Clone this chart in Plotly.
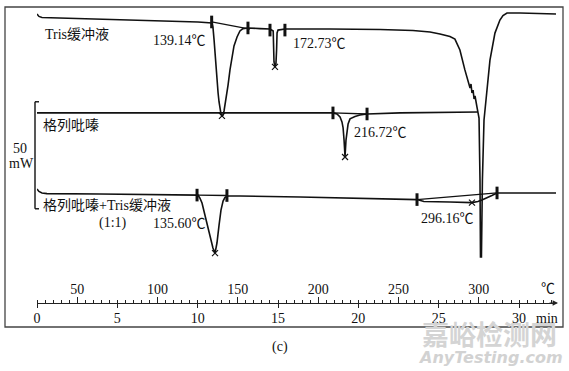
import plotly.graph_objects as go

# ---------------- data (temperature in degC, heat flow in mW incl. display offset) -------------
tris_temp = [25.0, 26.2, 28.1, 64.2, 95.3, 125.2, 133.9, 134.5, 135.2, 135.8, 136.4, 137.0, 137.7,
             138.3, 138.9, 139.5, 140.1, 140.8, 141.4, 142.6, 143.9, 145.1, 146.3, 147.6, 149.5,
             151.3, 153.2, 156.3, 163.8, 170.0, 172.0, 172.3, 172.5, 173.1, 173.7, 174.1, 174.4,
             175.0, 179.3, 207.3, 238.5, 259.0, 269.6, 275.8, 282.0, 285.1, 288.2, 291.3, 293.2,
             294.5, 295.1, 295.7, 296.4, 297.0, 297.6, 298.2, 298.8, 299.4, 300.1, 300.7, 301.0,
             301.6, 302.2, 303.2, 305.0, 306.9, 310.0, 313.1, 315.0, 317.5, 325.6, 348.0]
tris_hf = [166.8, 165.7, 165.2, 164.5, 163.8, 163.1, 162.6, 160.7, 154.7, 147.7, 140.7, 135.0, 129.9,
           125.7, 122.4, 120.1, 119.2, 119.6, 121.5, 126.6, 133.6, 140.7, 146.7, 151.9, 156.1,
           158.9, 160.0, 160.3, 160.0, 159.8, 158.9, 150.0, 144.4, 142.1, 143.5, 150.0, 158.0,
           159.3, 159.8, 159.8, 159.6, 159.1, 158.4, 157.5, 156.3, 155.1, 150.0, 140.7, 136.0,
           132.2, 134.1, 129.9, 131.3, 127.1, 128.5, 124.8, 123.4, 121.0, 118.2, 89.3, 53.3,
           53.3, 89.3, 117.3, 132.7, 145.3, 157.9, 164.0, 166.1, 167.3, 167.3, 166.8]

glip_temp = [25.0, 209.2, 211.7, 213.6, 214.8, 215.5, 216.1, 216.7, 217.3, 217.9, 218.6, 219.8,
             222.9, 226.0, 230.4, 250.9, 299.4]
glip_hf = [120.6, 120.6, 120.1, 118.7, 116.4, 113.6, 107.9, 100.0, 107.9, 112.6, 115.4, 117.8,
           118.9, 119.6, 120.1, 120.6, 121.0]

mix_temp = [25.0, 26.2, 28.1, 31.2, 64.2, 125.2, 126.4, 127.7, 129.5, 131.4, 133.3, 134.5, 135.8,
            137.0, 138.3, 139.5, 140.8, 142.0, 143.9, 151.3, 188.7, 238.5, 261.5, 265.8, 275.8,
            282.0, 295.7, 299.4, 301.9, 305.0, 308.1, 311.3, 319.3, 331.8, 348.0]
mix_hf = [85.0, 83.9, 83.2, 82.9, 82.7, 82.2, 80.8, 78.5, 72.9, 66.8, 61.2, 57.5, 55.1,
          59.8, 68.2, 75.2, 79.4, 81.1, 81.8, 81.8, 81.3, 80.6, 80.1, 79.2, 79.2,
          79.0, 78.7, 79.2, 79.9, 80.8, 82.0, 83.2, 83.2, 82.9, 83.2]

# integration baselines (start/end temperature and heat flow)
base_T = [[133.7, 157.5], [209.2, 230.4], [124.6, 143.2], [261.5, 311.3]]
base_hf = [[163.1, 159.8], [120.6, 120.1], [82.2, 82.0], [80.1, 83.2]]

# onset / endset markers
event_T = [133.7, 156.3, 170.0, 179.3, 209.2, 230.4, 124.6, 143.2, 261.5, 311.3]
event_hf = [163.1, 160.3, 159.3, 159.3, 120.6, 120.1, 82.2, 82.0, 80.1, 83.2]

# peaks
peak_T = [140.1, 173.1, 216.7, 135.8, 295.7]
peak_hf = [119.2, 142.1, 100.0, 55.1, 78.7]
peak_labels = ["139.14℃", "172.73℃", "216.72℃", "135.60℃", "296.16℃"]

curve_names = ["Tris缓冲液", "格列吡嗪", "格列吡嗪+Tris缓冲液"]

temp_ticks = [50, 100, 150, 200, 250, 300]
min_ticks = [0, 5, 10, 15, 20, 25, 30]
scale_bar_mw = 50

# ---------------- figure ----------------
W, H = 569, 371
def X(px):
    return px / W
def Y(py):
    return 1 - py / H

SERIF = "Liberation Serif, Noto Sans CJK SC, serif"
INK = "#111111"
LW = 1.6

fig = go.Figure()
for t, h in [(tris_temp, tris_hf), (glip_temp, glip_hf), (mix_temp, mix_hf)]:
    fig.add_trace(go.Scatter(x=t, y=h, mode="lines", line=dict(color=INK, width=LW),
                             hoverinfo="skip", cliponaxis=False))
for t, h in zip(base_T, base_hf):
    fig.add_trace(go.Scatter(x=t, y=h, mode="lines", line=dict(color=INK, width=1.3),
                             hoverinfo="skip", cliponaxis=False))
fig.add_trace(go.Scatter(x=event_T, y=event_hf, mode="markers",
                         marker=dict(symbol="line-ns", size=9, line=dict(color=INK, width=3)),
                         hoverinfo="skip", cliponaxis=False))
fig.add_trace(go.Scatter(x=peak_T, y=peak_hf, mode="markers",
                         marker=dict(symbol="x-thin", size=6, line=dict(color=INK, width=1.2)),
                         hoverinfo="skip", cliponaxis=False))
# carrier trace for the minute axis
fig.add_trace(go.Scatter(x=min_ticks, y=[None] * len(min_ticks), xaxis="x2", mode="lines",
                         hoverinfo="skip"))

axis_pos = Y(303)
dom = [X(37), X(556)]
fig.update_layout(
    width=W, height=H, margin=dict(l=0, r=0, t=0, b=0, pad=0), autosize=False,
    paper_bgcolor="white", plot_bgcolor="white", showlegend=False,
    xaxis=dict(domain=dom, range=[25, 348], anchor="free", position=axis_pos, side="top",
               automargin=False,
               showline=True, linecolor="#222", linewidth=1.2, ticks="outside", ticklen=6,
               tickwidth=1, tickcolor="#222", tickvals=temp_ticks, showgrid=False, zeroline=False,
               ticklabelstandoff=-3,
               tickfont=dict(family=SERIF, size=14, color=INK),
               minor=dict(ticks="outside", ticklen=3, dtick=5, tick0=0, tickcolor="#222",
                          tickwidth=1, showgrid=False)),
    xaxis2=dict(domain=dom, range=[0, 32.3], overlaying="x", anchor="free", position=axis_pos,
                side="bottom", showline=False, ticks="outside", ticklen=4, tickwidth=1,
                automargin=False, ticklabelstandoff=-2,
                tickcolor="#222", tickvals=min_ticks, showgrid=False, zeroline=False,
                tickfont=dict(family=SERIF, size=14, color=INK)),
    yaxis=dict(range=[0, 173.36], domain=[0, 1], visible=False, automargin=False),
)

shapes = [
    dict(type="rect", xref="paper", yref="paper", x0=X(5), x1=X(563), y0=Y(327), y1=Y(7),
         line=dict(color="#444", width=1.3)),
    dict(type="line", xref="paper", yref="y", x0=X(35), x1=X(35), y0=75.8,
         y1=75.8 + scale_bar_mw, line=dict(color=INK, width=1.4)),
    dict(type="line", xref="paper", yref="y", x0=X(35), x1=X(39), y0=75.8 + scale_bar_mw,
         y1=75.8 + scale_bar_mw, line=dict(color=INK, width=1.4)),
    dict(type="line", xref="paper", yref="y", x0=X(35), x1=X(39), y0=75.8, y1=75.8,
         line=dict(color=INK, width=1.4)),
]
fig.update_layout(shapes=shapes)

def note(text, px, py, xanchor="left", size=14, color=INK, family=SERIF):
    return dict(text=text, x=X(px), y=Y(py), xref="paper", yref="paper", showarrow=False,
                xanchor=xanchor, yanchor="middle", font=dict(family=family, size=size, color=color))

ann = [
    note("<b>嘉峪检测网</b>", 489, 333, "center", size=27, color="#d4d4d4",
         family="Noto Sans CJK SC"),
    note("<b><i>AnyTesting.com</i></b>", 490, 357, "center", size=16, color="#d2d2d2",
         family="DejaVu Sans"),
    note(curve_names[0], 43, 35),
    note(curve_names[1], 41, 126),
    note(curve_names[2], 41, 205),
    note("(1:1)", 97, 223),
    note(peak_labels[0], 151, 40),
    note(peak_labels[1], 291, 44),
    note(peak_labels[2], 352, 133),
    note(peak_labels[3], 151, 223),
    note(peak_labels[4], 419, 218),
    note("50", 20, 148, "center"),
    note("mW", 21, 164, "center"),
    note("℃", 548, 288, "center"),
    note("min", 547, 318, "center"),
    note("(c)", 280, 347, "center"),
    dict(text="", x=X(558), y=Y(303), xref="paper", yref="paper", showarrow=True,
         ax=-10, ay=0, arrowhead=2, arrowsize=0.9, arrowwidth=1.2, arrowcolor="#222"),
]
fig.update_layout(annotations=ann)

fig.write_html("out.html", config={"displayModeBar": False},
               post_script="document.body.style.margin='0';")
